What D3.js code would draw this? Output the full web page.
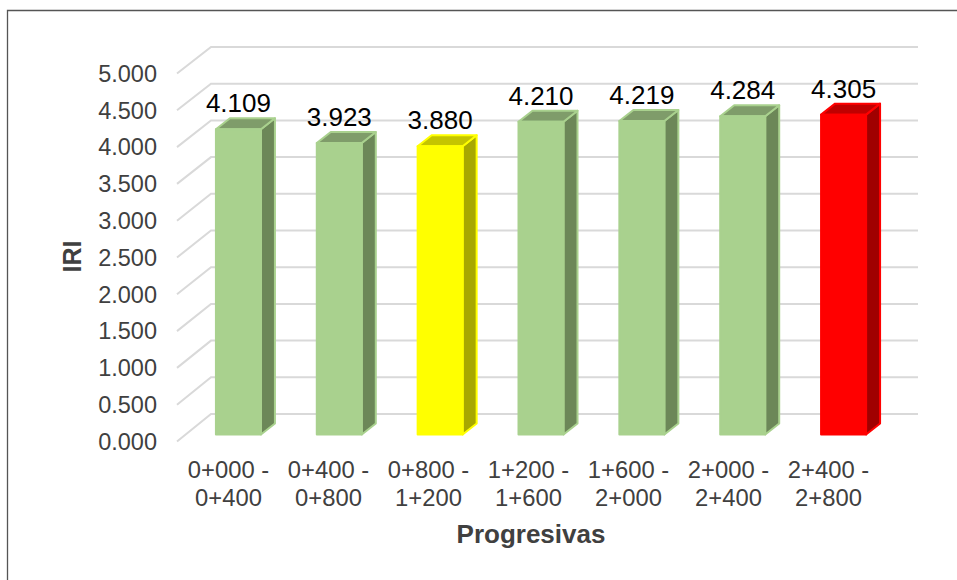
<!DOCTYPE html>
<html>
<head>
<meta charset="utf-8">
<script src="https://cdn.jsdelivr.net/npm/d3@7"></script>
<style>
  html, body { margin: 0; padding: 0; background: #fff; }
  svg { display: block; }
  text { font-family: "Liberation Sans", Arial, sans-serif; }
</style>
</head>
<body>
<svg id="chart" width="957" height="580"></svg>
<script>
// IRI per road segment (progresivas)
const categories = ["0+000 - 0+400", "0+400 - 0+800", "0+800 - 1+200", "1+200 - 1+600",
                    "1+600 - 2+000", "2+000 - 2+400", "2+400 - 2+800"];
const iriValues = [4.109, 3.923, 3.880, 4.210, 4.219, 4.284, 4.305];
const barStatus = ["ok", "ok", "warn", "ok", "ok", "ok", "max"];
const yTicks = [0, 0.5, 1, 1.5, 2, 2.5, 3, 3.5, 4, 4.5, 5];

const palette = {
  ok:   { front: "#A9D18E", top: "#7F9C6A", side: "#6C8758" },
  warn: { front: "#FFFF00", top: "#C4C400", side: "#A8A800" },
  max:  { front: "#FF0000", top: "#C00000", side: "#A00000" }
};

const svg = d3.select("#chart");

// frame
svg.append("path").attr("d", "M7.5,580 V10.5 H957")
  .attr("fill", "none").attr("stroke", "#555").attr("stroke-width", 1.3);

// 3D geometry: back wall, floor front edge, bar front plane
const yBack = d3.scaleLinear().domain([0, 5]).range([414, 47]);
const yFloorFront = d3.scaleLinear().domain([0, 5]).range([441.5, 73.5]);
const yBar = d3.scaleLinear().domain([0, 5]).range([434.5, 63]);
const wallX0 = 211, wallX1 = 918, floorDx = -34, floorDy = 27.3;

const xBar = d3.scaleBand().domain(categories).range([188, 894]);
const xLabel = d3.scaleBand().domain(categories).range([178.5, 878.5]);
const barW = 45, depthDx = 14, depthDy = -11;

// gridlines on back wall plus the side-wall diagonals
const grid = svg.append("g").attr("stroke", "#D9D9D9").attr("stroke-width", 2).attr("fill", "none");
yTicks.forEach(v => {
  const yb = yBack(v);
  grid.append("path").attr("d", `M${wallX0 + floorDx},${yFloorFront(v)} L${wallX0},${yb} H${wallX1}`);
});

// tick labels
const fmt = d3.format(".3f");
svg.append("g").selectAll("text").data(yTicks).join("text")
  .attr("x", 157).attr("y", d => yFloorFront(d))
  .attr("dy", "0.35em").attr("text-anchor", "end")
  .attr("font-size", 23.5).attr("fill", "#404040")
  .text(d => fmt(d));

// bars
const bars = svg.append("g").selectAll("g").data(iriValues).join("g");
bars.each(function(v, i) {
  const g = d3.select(this);
  const c = palette[barStatus[i]];
  const cx = xBar(categories[i]) + xBar.bandwidth() / 2;
  const x0 = cx - barW / 2, x1 = cx + barW / 2;
  const yt = yBar(v), yb = yBar(0);
  const sw = 2;
  g.append("path")
    .attr("d", `M${x1},${yt} L${x1 + depthDx},${yt + depthDy} L${x1 + depthDx},${yb + depthDy} L${x1},${yb} Z`)
    .attr("fill", c.side).attr("stroke", c.front).attr("stroke-width", sw).attr("stroke-linejoin", "round");
  g.append("path")
    .attr("d", `M${x0},${yt} L${x0 + depthDx},${yt + depthDy} L${x1 + depthDx},${yt + depthDy} L${x1},${yt} Z`)
    .attr("fill", c.top).attr("stroke", c.front).attr("stroke-width", sw).attr("stroke-linejoin", "round");
  g.append("rect")
    .attr("x", x0).attr("y", yt).attr("width", barW).attr("height", yb - yt)
    .attr("fill", c.front).attr("stroke", c.front).attr("stroke-width", sw).attr("stroke-linejoin", "round");
  g.append("text")
    .attr("x", cx).attr("y", yt + depthDy - 6)
    .attr("text-anchor", "middle").attr("font-size", 26).attr("fill", "#000")
    .text(fmt(v));
});

// category labels in two lines
const cat = svg.append("g").selectAll("text").data(categories).join("text")
  .attr("text-anchor", "middle").attr("font-size", 23.8).attr("fill", "#404040");
cat.each(function(d) {
  const parts = d.split(" - ");
  const t = d3.select(this);
  const cx = xLabel(d) + xLabel.bandwidth() / 2;
  t.append("tspan").attr("x", cx).attr("y", 477.5).text(parts[0] + " -");
  t.append("tspan").attr("x", cx).attr("y", 505.5).text(parts[1]);
});

// axis titles
svg.append("text").attr("transform", "translate(81,256.5) rotate(-90)")
  .attr("text-anchor", "middle").attr("font-size", 25).attr("font-weight", "bold")
  .attr("fill", "#404040").text("IRI");
svg.append("text").attr("x", 531).attr("y", 542.5)
  .attr("text-anchor", "middle").attr("font-size", 26).attr("font-weight", "bold")
  .attr("fill", "#404040").text("Progresivas");
</script>
</body>
</html>
